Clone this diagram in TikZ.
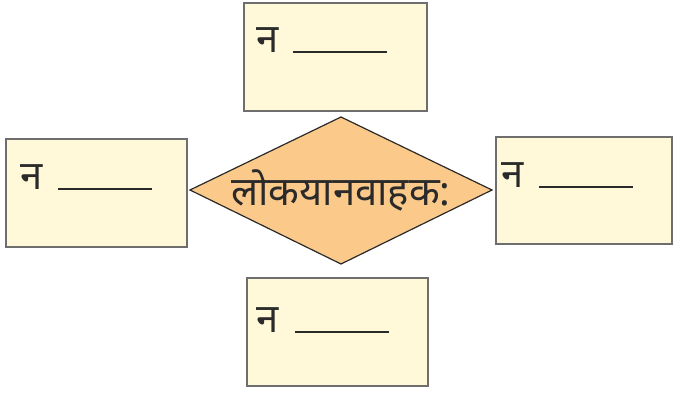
\documentclass[tikz,border=0pt]{standalone}
\usepackage{fontspec}
\usepackage{tikz}
\newfontfamily\devfont[Script=Devanagari]{Noto Sans}
\definecolor{boxfill}{HTML}{FFF9DA}
\definecolor{boxline}{HTML}{6E6E6E}
\definecolor{diafill}{HTML}{FBC98A}
\definecolor{ink}{HTML}{2A2A2A}
\tikzset{
  box/.style={draw=boxline, line width=2.2pt, fill=boxfill, inner sep=0pt},
  lbl/.style={anchor=base west, inner sep=0pt, text=ink, font=\devfont\fontsize{40}{40}\selectfont},
}
\newcommand{\blank}{\rule{94pt}{2.4pt}}

\begin{document}
\begin{tikzpicture}[x=1pt, y=-1pt]
\useasboundingbox (0, 0) rectangle (673, 393);
\node[box, minimum width=183pt, minimum height=108pt] (top) at (335.5, 57) {};
\node[box, minimum width=181pt, minimum height=108pt] (left) at (96.5, 193) {};
\node[box, minimum width=176pt, minimum height=107pt] (right) at (584, 190.5) {};
\node[box, minimum width=181pt, minimum height=108pt] (bottom) at (337.5, 332) {};
\draw[fill=diafill, draw=ink, line width=1.2pt] (190, 190) -- (341, 117) -- (492, 190) -- (341, 264) -- cycle;
\node[lbl] (toplbl) at (256, 53) {न\hspace{15pt}\blank};
\node[lbl] (leftlbl) at (20, 190) {न\hspace{16pt}\blank};
\node[lbl] (rightlbl) at (501, 188) {न\hspace{16pt}\blank};
\node[lbl] (bottomlbl) at (256, 333) {न\hspace{17pt}\blank};
\node[inner sep=0pt, anchor=base, text=ink, font=\devfont\fontsize{40}{40}\selectfont] (center) at (341, 206) {लोकयानवाहक:};
\end{tikzpicture}
\end{document}
